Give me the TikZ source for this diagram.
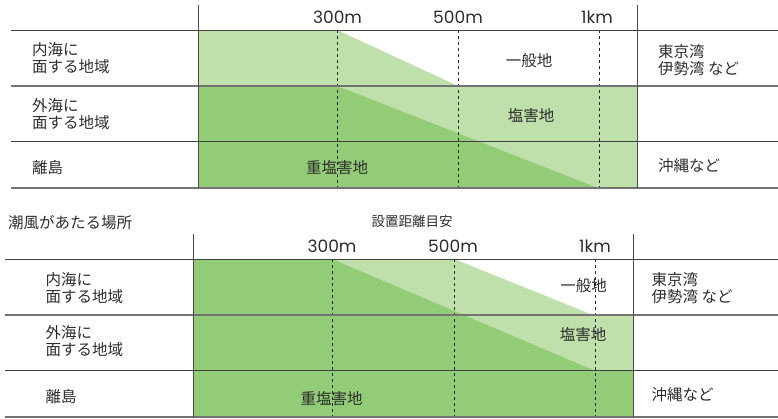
\documentclass[tikz,border=0pt]{standalone}
\usepackage{fontspec}
\newfontfamily\jp{Noto Sans CJK JP}
\newfontfamily\numf{Poppins}
\definecolor{lightg}{RGB}{191,223,171}
\definecolor{darkg}{RGB}{147,204,119}
\definecolor{txt}{RGB}{45,45,45}
\tikzset{
  lbl/.style={font=\jp\fontsize{15.5}{17}\selectfont, text=txt, inner sep=0pt, align=left, anchor=west},
  ctr/.style={font=\jp\fontsize{15.5}{17}\selectfont, text=txt, inner sep=0pt},
  small/.style={font=\jp\fontsize{13.5}{15}\selectfont, text=txt, inner sep=0pt},
  numlbl/.style={font=\numf\fontsize{17}{17}\selectfont, text=txt, inner sep=0pt},
  rule/.style={draw=black!75, line width=0.8pt},
  grule/.style={draw=black!55, line width=1.3pt},
  vrule/.style={draw=black!70, line width=0.8pt},
  dline/.style={draw=black!85, line width=0.8pt, dash pattern=on 3pt off 3pt},
}
\begin{document}
\begin{tikzpicture}[x=1pt,y=-1pt]
\useasboundingbox (0,0) rectangle (778,418);
% ---------------- top table ----------------
\fill[lightg] (198,30) -- (337,30) -- (458,86) -- (637,86) -- (637,188) -- (198,188) -- cycle;
\fill[darkg] (198,86) -- (337,86) -- (598,188) -- (198,188) -- cycle;
\draw[dline] (337,30) -- (337,188);
\draw[dline] (458,30) -- (458,188);
\draw[dline] (599,30) -- (599,188);
\draw[rule] (11,30) -- (778,30);
\draw[grule] (11,86) -- (778,86);
\draw[rule] (11,141) -- (778,141);
\draw[grule] (11,188) -- (778,188);
\draw[vrule] (198,5) -- (198,188);
\draw[vrule] (637,5) -- (637,188);
\node[numlbl] (t300) at (337.5,17) {300m};
\node[numlbl] (t500) at (458,17) {500m};
\node[numlbl] (t1k) at (597,17) {1km};
\node[lbl] (tin) at (32,58) {内海に\\面する地域};
\node[lbl] (tout) at (32,114) {外海に\\面する地域};
\node[lbl] (tis) at (32,167.5) {離島};
\node[lbl] (ttk) at (658,60) {東京湾\\伊勢湾 など};
\node[lbl] (tok) at (658,165.5) {沖縄など};
\node[ctr] (tgen) at (529,61) {一般地};
\node[ctr] (tsalt) at (531,116) {塩害地};
\node[ctr] (theavy) at (337,167.5) {重塩害地};
% ---------------- bottom table ----------------
\node[lbl] (title) at (8,222.5) {潮風があたる場所};
\node[small] (dist) at (412,221) {設置距離目安};
\fill[lightg] (193,259) -- (454,259) -- (593,315) -- (633,315) -- (633,370) -- (193,370) -- cycle;
\fill[darkg] (193,259) -- (332,259) -- (593,370) -- (633,370) -- (633,418) -- (193,418) -- cycle;
\draw[dline] (332,259) -- (332,418);
\draw[dline] (454,259) -- (454,418);
\draw[dline] (595,259) -- (595,418);
\draw[rule] (5,259.5) -- (778,259.5);
\draw[grule] (5,315) -- (778,315);
\draw[rule] (5,370.5) -- (778,370.5);
\draw[grule] (5,417) -- (778,417);
\draw[vrule] (193,234) -- (193,418);
\draw[vrule] (633,234) -- (633,418);
\node[numlbl] (b300) at (332,246) {300m};
\node[numlbl] (b500) at (453,246) {500m};
\node[numlbl] (b1k) at (595,246) {1km};
\node[lbl] (bin) at (45.5,288) {内海に\\面する地域};
\node[lbl] (bout) at (45.5,341.5) {外海に\\面する地域};
\node[lbl] (bis) at (45.5,396.7) {離島};
\node[lbl] (btk) at (651.5,288) {東京湾\\伊勢湾 など};
\node[lbl] (bok) at (651.5,395) {沖縄など};
\node[ctr] (bgen) at (583.5,286) {一般地};
\node[ctr] (bsalt) at (583,335) {塩害地};
\node[ctr] (bheavy) at (331.5,398.5) {重塩害地};
\end{tikzpicture}
\end{document}
